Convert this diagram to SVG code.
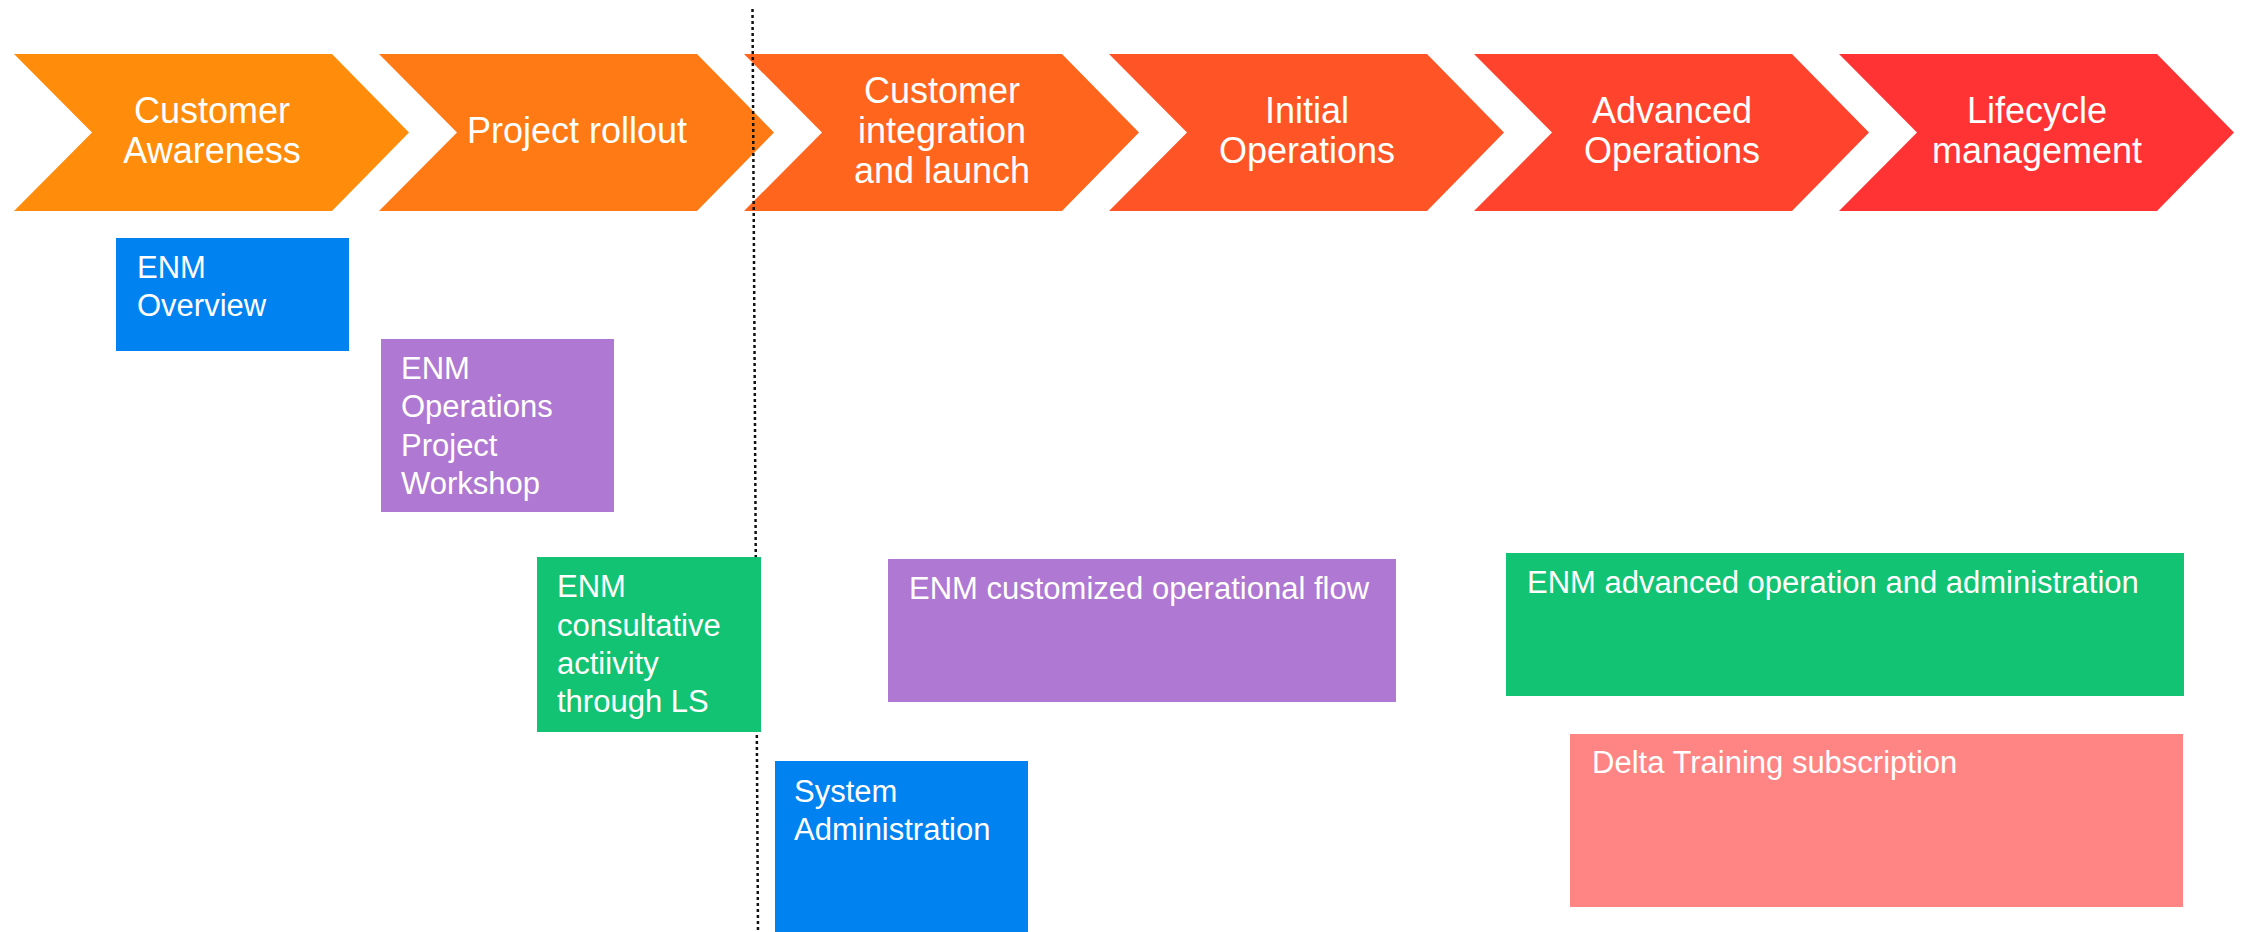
<svg xmlns="http://www.w3.org/2000/svg" width="2244" height="932" viewBox="0 0 2244 932">
<style>
.ct{font-family:"Liberation Sans",Arial,sans-serif;font-size:36px;fill:#fff;text-anchor:middle}
.bt{font-family:"Liberation Sans",Arial,sans-serif;font-size:31px;fill:#fff}
</style>
<defs>
<polygon id="chev" points="0,54 318,54 395,132.5 318,211 0,211 78,132.5"/>
</defs>
<rect width="2244" height="932" fill="#fff"/>
<g id="phase1"><use href="#chev" x="14" fill="#FF8C0A"/><text class="ct" x="212"><tspan x="212" y="123">Customer</tspan><tspan x="212" y="163">Awareness</tspan></text></g>
<g id="phase2"><use href="#chev" x="379" fill="#FF7915"/><text class="ct" x="577" y="143">Project rollout</text></g>
<g id="phase3"><use href="#chev" x="744" fill="#FF651D"/><text class="ct"><tspan x="942" y="103">Customer</tspan><tspan x="942" y="143">integration</tspan><tspan x="942" y="183">and launch</tspan></text></g>
<g id="phase4"><use href="#chev" x="1109" fill="#FF5425"/><text class="ct"><tspan x="1307" y="123">Initial</tspan><tspan x="1307" y="163">Operations</tspan></text></g>
<g id="phase5"><use href="#chev" x="1474" fill="#FF432C"/><text class="ct"><tspan x="1672" y="123">Advanced</tspan><tspan x="1672" y="163">Operations</tspan></text></g>
<g id="phase6"><use href="#chev" x="1839" fill="#FF3333"/><text class="ct"><tspan x="2037" y="123">Lifecycle</tspan><tspan x="2037" y="163">management</tspan></text></g>
<g id="connectors">
<line x1="752.5" y1="9" x2="758" y2="932" stroke="#111" stroke-width="2.5" stroke-dasharray="3 3"/>
</g>
<g id="enm-overview"><rect x="116" y="238" width="233" height="113" fill="#0082F0"/><text class="bt"><tspan x="137" y="278">ENM</tspan><tspan x="137" y="316">Overview</tspan></text></g>
<g id="enm-workshop"><rect x="381" y="339" width="233" height="173" fill="#AF78D2"/><text class="bt"><tspan x="401" y="379">ENM</tspan><tspan x="401" y="417">Operations</tspan><tspan x="401" y="456">Project</tspan><tspan x="401" y="494">Workshop</tspan></text></g>
<g id="enm-consultative"><rect x="537" y="557" width="224" height="175" fill="#12C373"/><text class="bt"><tspan x="557" y="597">ENM</tspan><tspan x="557" y="636">consultative</tspan><tspan x="557" y="674">actiivity</tspan><tspan x="557" y="712">through LS</tspan></text></g>
<g id="enm-flow"><rect x="888" y="559" width="508" height="143" fill="#AF78D2"/><text class="bt" x="909" y="599">ENM customized operational flow</text></g>
<g id="sysadmin"><rect x="775" y="761" width="253" height="171" fill="#0082F0"/><text class="bt"><tspan x="794" y="802">System</tspan><tspan x="794" y="840">Administration</tspan></text></g>
<g id="enm-advanced"><rect x="1506" y="553" width="678" height="143" fill="#12C373"/><text class="bt" x="1527" y="593">ENM advanced operation and administration</text></g>
<g id="delta"><rect x="1570" y="734" width="613" height="173" fill="#FF8585"/><text class="bt" x="1592" y="773">Delta Training subscription</text></g>
</svg>
